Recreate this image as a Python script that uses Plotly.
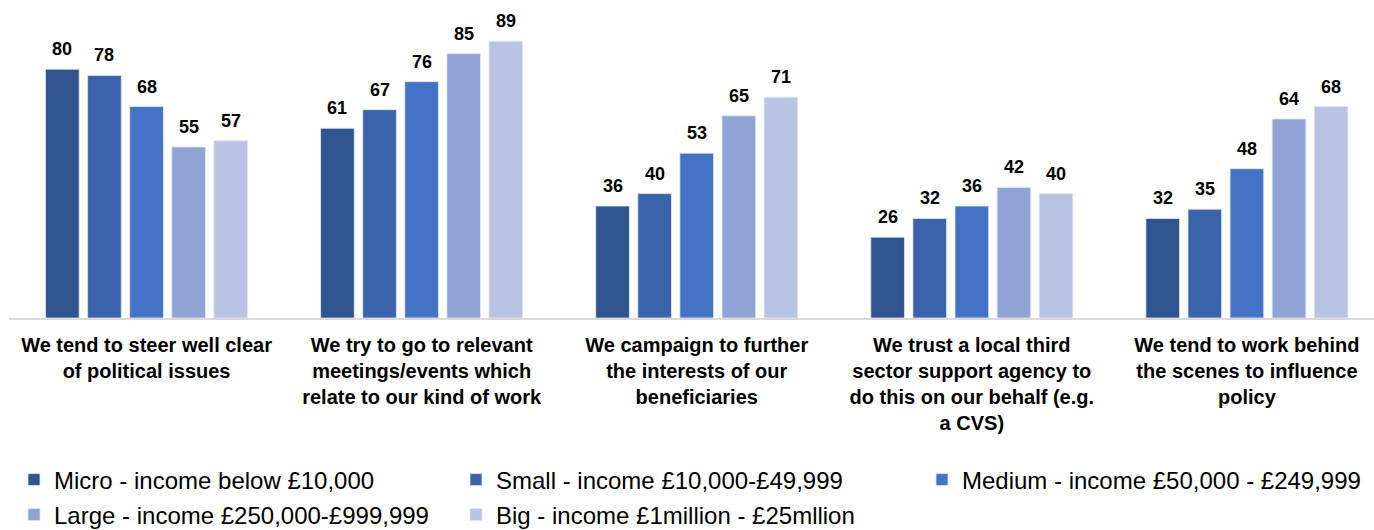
import plotly.graph_objects as go

categories = [
    "We tend to steer well clear<br>of political issues",
    "We try to go to relevant<br>meetings/events which<br>relate to our kind of work",
    "We campaign to further<br>the interests of our<br>beneficiaries",
    "We trust a local third<br>sector support agency to<br>do this on our behalf (e.g.<br>a CVS)",
    "We tend to work behind<br>the scenes to influence<br>policy",
]

series_names = [
    "Micro - income below £10,000",
    "Small - income £10,000-£49,999",
    "Medium - income £50,000 - £249,999",
    "Large - income £250,000-£999,999",
    "Big - income £1million - £25mllion",
]

micro = [80, 61, 36, 26, 32]
small = [78, 67, 40, 32, 35]
medium = [68, 76, 53, 36, 48]
large = [55, 85, 65, 42, 64]
big = [57, 89, 71, 40, 68]

series_values = [micro, small, medium, large, big]
colors = ["#30548F", "#3B63AB", "#4472C4", "#8FA3D5", "#B9C4E4"]
# legend box each series is listed in (row 1: Micro, Small | Medium; row 2: Large, Big)
legend_ids = ["legend", "legend", "legend2", "legend3", "legend3"]

BARGAP = 0.235
BARGROUPGAP = 0.2
FONT = "Liberation Sans, Arial"

fig = go.Figure()
for name, vals, col, lg in zip(series_names, series_values, colors, legend_ids):
    fig.add_trace(go.Bar(
        x=list(range(len(categories))),
        y=vals,
        name=name,
        legend=lg,
        marker=dict(color=col, line=dict(color="#E4E9F4", width=0.8)),
        cliponaxis=False,
    ))

# value labels above each bar, placed at the bar's centre in data units
n_series = len(series_values)
slot = (1 - BARGAP) / n_series
for j, vals in enumerate(series_values):
    offset = (j - (n_series - 1) / 2) * slot
    for i, v in enumerate(vals):
        fig.add_annotation(
            x=i + offset, y=v, xref="x", yref="y",
            text=f"<b>{v}</b>", showarrow=False,
            yanchor="bottom", yshift=8,
            font=dict(family=FONT, size=18, color="#000000"),
        )

legend_common = dict(
    orientation="h",
    xanchor="left",
    yanchor="middle",
    xref="container",
    yref="container",
    entrywidth=397,
    entrywidthmode="pixels",
    font=dict(family=FONT, size=24, color="#000000"),
    itemwidth=30,
    bgcolor="rgba(0,0,0,0)",
)

fig.update_layout(
    width=1374,
    height=530,
    margin=dict(l=9, r=0, t=7, b=212, autoexpand=False),
    plot_bgcolor="white",
    paper_bgcolor="white",
    barmode="group",
    bargap=BARGAP,
    bargroupgap=BARGROUPGAP,
    showlegend=True,
    legend=dict(legend_common, x=14 / 1374, y=(530 - 480) / 530),
    legend2=dict(legend_common, x=922 / 1374, y=(530 - 480) / 530),
    legend3=dict(legend_common, x=14 / 1374, y=(530 - 515) / 530),
)

fig.update_xaxes(
    tickmode="array",
    tickvals=list(range(len(categories))),
    ticktext=[f"<b>{c}</b>" for c in categories],
    range=[-0.5, 4.462],
    showline=True,
    linecolor="#D9D9D9",
    linewidth=2,
    ticks="",
    ticklabelstandoff=8,
    tickfont=dict(family=FONT, size=20, color="#000000"),
    showgrid=False,
    zeroline=False,
)
fig.update_yaxes(
    range=[0, 100],
    visible=False,
    showgrid=False,
)

fig.write_html("out.html")
